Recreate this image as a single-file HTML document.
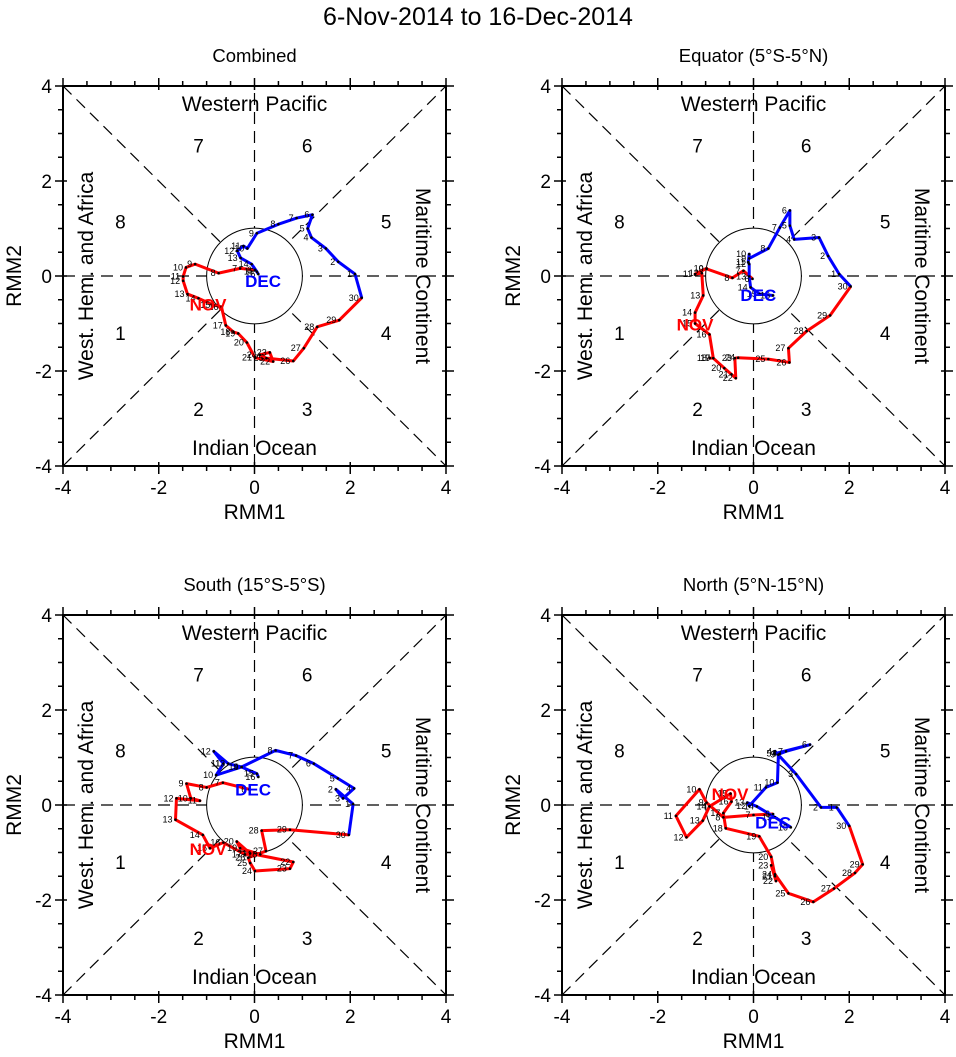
<!DOCTYPE html>
<html><head><meta charset="utf-8"><style>
html,body{margin:0;padding:0;background:#fff;}
svg{display:block;font-family:"Liberation Sans",Arial,sans-serif;}
</style></head><body>
<svg id="chart" width="956" height="1057" viewBox="0 0 956 1057" xmlns="http://www.w3.org/2000/svg">
<text x="478" y="25" font-size="25" text-anchor="middle">6-Nov-2014 to 16-Dec-2014</text>
</svg>
<script>
const novDays = [6,7,8,9,10,11,12,13,14,15,16,17,18,19,20,21,22,23,24,25,26,27,28,29,30];
const decDays = [1,2,3,4,5,6,7,8,9,10,11,12,13,14,15,16];
const axisTicks = [-4,-2,0,2,4];

const combNovX = [0.01,-0.30,-0.75,-1.24,-1.43,-1.49,-1.49,-1.40,-1.17,-0.86,-0.69,-0.60,-0.44,-0.34,-0.16,0.01,0.39,0.32,0.11,0.25,0.81,1.03,1.31,1.77,2.24];
const combNovY = [0.13,0.16,0.06,0.25,0.18,-0.01,-0.10,-0.38,-0.47,-0.61,-0.65,-1.04,-1.18,-1.21,-1.40,-1.72,-1.80,-1.61,-1.66,-1.73,-1.79,-1.52,-1.07,-0.93,-0.46];
const combDecX = [2.10,1.75,1.49,1.19,1.11,1.21,0.88,0.50,0.05,-0.15,-0.23,-0.36,-0.29,-0.06,0.05,0.08];
const combDecY = [0.04,0.30,0.58,0.81,1.00,1.29,1.22,1.09,0.90,0.58,0.63,0.53,0.38,0.25,0.09,0.04];

const eqNovX = [-0.02,-0.21,-0.44,-0.98,-0.98,-1.22,-1.08,-1.05,-1.22,-1.22,-0.92,-0.84,-0.91,-0.84,-0.61,-0.46,-0.37,-0.39,-0.32,0.31,0.75,0.73,1.11,1.60,2.03];
const eqNovY = [-0.06,0.11,-0.04,0.15,0.16,0.04,0.06,-0.41,-0.77,-1.00,-1.23,-1.73,-1.73,-1.73,-1.94,-2.07,-2.15,-1.73,-1.72,-1.75,-1.82,-1.52,-1.16,-0.83,-0.22];
const eqDecX = [1.79,1.56,1.37,0.85,0.76,0.76,0.55,0.31,-0.09,-0.09,-0.11,-0.09,-0.09,-0.06,0.13,0.41];
const eqDecY = [0.04,0.42,0.81,0.77,1.06,1.38,1.02,0.58,0.37,0.46,0.29,0.25,-0.01,-0.24,-0.38,-0.41];

const southNovX = [-0.11,-0.66,-1.00,-1.42,-1.33,-1.14,-1.63,-1.65,-1.08,-0.93,-0.65,-0.20,0.12,-0.30,-0.37,-0.09,0.81,0.74,0.01,-0.09,-0.13,0.24,0.15,0.74,1.97];
const southNovY = [0.33,0.47,0.37,0.45,0.14,0.09,0.14,-0.31,-0.63,-0.91,-0.79,-1.04,-1.04,-0.91,-0.77,-1.02,-1.20,-1.34,-1.39,-1.22,-1.11,-0.97,-0.54,-0.52,-0.63];
const southDecX = [2.06,1.70,1.85,2.08,1.74,1.24,0.87,0.44,-0.27,-0.80,-0.65,-0.85,-0.55,-0.27,0.05,0.08];
const southDecY = [0.02,0.33,0.14,0.35,0.56,0.87,1.04,1.15,0.80,0.63,0.87,1.13,0.87,0.80,0.66,0.59];

const northNovX = [0.41,0.00,-0.63,-0.98,-1.13,-1.62,-1.40,-1.06,-0.92,-0.48,-0.46,-0.63,-0.58,0.12,0.37,0.45,0.47,0.37,0.45,0.73,1.25,1.68,2.12,2.28,2.00];
const northNovY = [-0.19,-0.21,-0.26,0.05,0.33,-0.23,-0.68,-0.33,-0.03,0.24,0.07,-0.17,-0.49,-0.66,-1.09,-1.50,-1.60,-1.27,-1.46,-1.86,-2.04,-1.76,-1.43,-1.25,-0.44];
const northDecX = [1.74,1.41,0.89,0.45,0.44,1.18,0.68,0.55,0.52,0.50,0.26,-0.09,-0.13,0.07,0.45,0.78];
const northDecY = [-0.05,-0.05,0.65,1.13,1.08,1.27,1.13,1.08,1.06,0.47,0.37,-0.02,0.05,-0.03,-0.26,-0.47];

const NS = "http://www.w3.org/2000/svg";
const svg = document.getElementById('chart');
function mk(tag, attrs, parent){ const e=document.createElementNS(NS,tag); for(const k in attrs) e.setAttribute(k,attrs[k]); (parent||svg).appendChild(e); return e; }

function panel(cfg){
  const L=cfg.left, T=cfg.top, W=383, H=380;
  const sx = v => L + (v+4)/8*W;
  const sy = v => T + (4-v)/8*H;
  const g = mk('g',{});
  
  
  const t = mk('text',{x:L+W/2,y:T-24,'font-size':18.5,'text-anchor':'middle'},g); t.textContent=cfg.title;
  
  
  const dash={stroke:'#000','stroke-width':1.2,'stroke-dasharray':'12,7',fill:'none'};
  [[-4,0,4,0],[0,-4,0,4],[-4,-4,4,4],[-4,4,4,-4]].forEach(l=>{
    const ln=mk('line',Object.assign({x1:sx(l[0]),y1:sy(l[1]),x2:sx(l[2]),y2:sy(l[3])},dash),g);
    
    
  });
  const c = mk('circle',{cx:sx(0),cy:sy(0),r:(sx(1)-sx(0)),fill:'#fff',stroke:'#000','stroke-width':1},g);
  
  
  const rl=(txt,x,y,rot,nm)=>{const e=mk('text',{x:x,y:y,'font-size':21,'text-anchor':'middle',transform:rot?`rotate(${rot} ${x} ${y})`:''},g);e.textContent=txt;
    
    };
  rl('Western Pacific',sx(0),T+25,0,'region-western-pacific');
  rl('Indian Ocean',sx(0),T+H-11,0,'region-indian-ocean');
  rl('West. Hem. and Africa',L+30,sy(0),-90,'region-west-hem-africa');
  rl('Maritime Continent',L+W-30,sy(0),90,'region-maritime-continent');
  const ph=[['7',-1.17,2.75],['6',1.1,2.75],['8',-2.8,1.15],['5',2.75,1.15],['1',-2.8,-1.2],['4',2.75,-1.2],['2',-1.17,-2.8],['3',1.1,-2.8]];
  ph.forEach(p=>{const e=mk('text',{x:sx(p[1]),y:sy(p[2])+7,'font-size':19,'text-anchor':'middle'},g);e.textContent=p[0];
    
    });
  const pts=(xs,ys)=>xs.map((x,i)=>sx(x)+','+sy(ys[i])).join(' ');
  const nov = mk('polyline',{points:pts(cfg.nx,cfg.ny),fill:'none',stroke:'#ff0000','stroke-width':3,'stroke-linejoin':'round'},g);
  
  
  const bx=[cfg.nx[cfg.nx.length-1]].concat(cfg.dx), by=[cfg.ny[cfg.ny.length-1]].concat(cfg.dy);
  const dec = mk('polyline',{points:pts(cfg.dx,cfg.dy),fill:'none',stroke:'#0000ff','stroke-width':3,'stroke-linejoin':'round'},g);
  
  
  const conn = mk('polyline',{points:pts(bx.slice(0,2),by.slice(0,2)),fill:'none',stroke:'#0000ff','stroke-width':3},g);
  
  
  const addPts=(xs,ys,days,nm)=>xs.forEach((x,i)=>{
    const d=mk('circle',{cx:sx(x),cy:sy(ys[i]),r:1.3,fill:'#000'},g);
    
    
    const tl=mk('text',{x:sx(x)-3,y:sy(ys[i])+3,'font-size':9,'text-anchor':'end'},g);tl.textContent=days[i];
    
    
  });
  addPts(cfg.nx,cfg.ny,novDays,'nov');
  addPts(cfg.dx,cfg.dy,decDays,'dec');
  const ml=(txt,p,col,nm)=>{const e=mk('text',{x:sx(p[0]),y:sy(p[1])+7,'font-size':17,'font-weight':'bold',fill:col,'text-anchor':'middle'},g);e.textContent=txt;
    
    };
  ml('NOV',cfg.novLab,'#ff0000','nov-label');
  ml('DEC',cfg.decLab,'#0000ff','dec-label');
  const fr = mk('rect',{x:L,y:T,width:W,height:H,fill:'none',stroke:'#000','stroke-width':2},g);
  
  
  for(let v=-4; v<=4.001; v+=0.5){
    const major = Math.abs(v-Math.round(v/2)*2)<1e-6;
    const out = major?8:5, inn = major?4:0;
    const tk=[[sx(v),T+H+out,sx(v),T+H-inn],[sx(v),T-out,sx(v),T+inn],[L-out,sy(v),L+inn,sy(v)],[L+W+out,sy(v),L+W-inn,sy(v)]];
    tk.forEach(k=>{const e=mk('line',{x1:k[0],y1:k[1],x2:k[2],y2:k[3],stroke:'#000','stroke-width':1.5},g);
      
      });
  }
  axisTicks.forEach(v=>{
    const a=mk('text',{x:sx(v),y:T+H+28,'font-size':19,'text-anchor':'middle'},g);a.textContent=v;
    
    
    const b=mk('text',{x:L-11,y:sy(v)+7,'font-size':19,'text-anchor':'end'},g);b.textContent=v;
    
    
  });
  const xt=mk('text',{x:L+W/2,y:T+H+53,'font-size':21,'text-anchor':'middle'},g);xt.textContent='RMM1';
  
  
  const yx=L-42, yy=T+H/2;
  const yt=mk('text',{x:yx,y:yy,'font-size':21,'text-anchor':'middle',transform:`rotate(-90 ${yx} ${yy})`},g);yt.textContent='RMM2';
  
  
}

panel({name:'panel-combined',title:'Combined',left:63,top:86,nx:combNovX,ny:combNovY,dx:combDecX,dy:combDecY,novLab:[-0.97,-0.58],decLab:[0.18,-0.08]});
panel({name:'panel-equator',title:'Equator (5°S-5°N)',left:562,top:86,nx:eqNovX,ny:eqNovY,dx:eqDecX,dy:eqDecY,novLab:[-1.22,-1.0],decLab:[0.10,-0.38]});
panel({name:'panel-south',title:'South (15°S-5°S)',left:63,top:615,nx:southNovX,ny:southNovY,dx:southDecX,dy:southDecY,novLab:[-0.97,-0.9],decLab:[-0.03,0.35]});
panel({name:'panel-north',title:'North (5°N-15°N)',left:562,top:615,nx:northNovX,ny:northNovY,dx:northDecX,dy:northDecY,novLab:[-0.49,0.25],decLab:[0.41,-0.35]});
</script>
</body></html>
